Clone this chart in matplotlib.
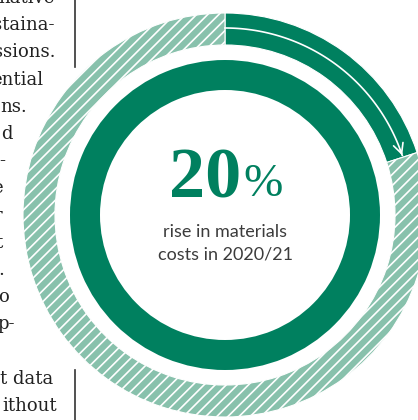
import numpy as np
import matplotlib
matplotlib.use("Agg")
import matplotlib.pyplot as plt

# share of materials cost rise shown on the ring
rise = 20
ring_values = [rise, 100 - rise]
caption = ["rise in materials", "costs in 2020/21"]

# fragments of the neighbouring text column, cropped at the page edge
column_lines = ["native", "staina-", "issions.", "ential", "ns.", "d", "-",
                "e", "r", "t", ".", "o", "p-", "", "t data", "ithout"]
column_ends = [55, 54, 56, 43, 27, 13, 5, 3, 2, 3, 4, 9, 15, 0, 53, 57]

dark = "#00805f"
light = "#88c1ac"
plt.rcParams["hatch.linewidth"] = 1.2
plt.rcParams["hatch.color"] = "white"

W, H = 418, 420
fig = plt.figure(figsize=(W / 100, H / 100), dpi=100)

# ring axes: one unit per pixel, ring centre at (225, 215) from top-left
cx, cy = 225, 215
ax = fig.add_axes([0, 0, 1, 1])
outer, _ = ax.pie(ring_values, radius=202, startangle=90, counterclock=False,
                  colors=[dark, light],
                  wedgeprops=dict(width=32, edgecolor="white", linewidth=0.8))
outer[1].set_hatch("///")
ax.pie([100], radius=155, colors=[dark],
       wedgeprops=dict(width=30, linewidth=0))

# white arrow running along the highlighted segment
r_arrow = 187
end_deg = 90 - rise / 100 * 360 + 0.6
theta = np.radians(np.linspace(90, end_deg, 120))
ax.plot(r_arrow * np.cos(theta), r_arrow * np.sin(theta), color="white", lw=1.2)
ax.annotate("", xy=(r_arrow * np.cos(theta[-1]), r_arrow * np.sin(theta[-1])),
            xytext=(r_arrow * np.cos(theta[-4]), r_arrow * np.sin(theta[-4])),
            arrowprops=dict(arrowstyle="->", color="white", lw=1.2,
                            mutation_scale=18, shrinkA=0, shrinkB=0))

ax.set_xlim(-cx, W - cx)
ax.set_ylim(-(H - cy), cy)
ax.set_aspect("equal")
ax.axis("off")

# overlay axes in pixel coordinates for the text
tx = fig.add_axes([0, 0, 1, 1])
tx.set_xlim(0, W)
tx.set_ylim(H, 0)
tx.axis("off")
tx.patch.set_alpha(0)

for i, (line, x_end) in enumerate(zip(column_lines, column_ends)):
    if line:
        tx.text(x_end, 3 + 27.2 * i, line, ha="right", va="baseline",
                family="DejaVu Serif", fontsize=13, color="#222222")

tx.plot([75, 75], [0, 67], color="#333333", lw=1.2)
tx.plot([75, 75], [370, 420], color="#333333", lw=1.2)

tx.text(241, 197, f"{rise:.0f}", ha="right", va="baseline",
        family="Liberation Serif", fontweight="bold", fontsize=52, color=dark)
tx.text(243, 196, "%", ha="left", va="baseline",
        family="Liberation Serif", fontsize=34, color=dark)
tx.text(225, 237, caption[0], ha="center", va="baseline",
        family="Lato", fontsize=13, color="#3c3c3c")
tx.text(225, 259, caption[1], ha="center", va="baseline",
        family="Lato", fontsize=13, color="#3c3c3c")

fig.savefig("out.png", dpi=100)
